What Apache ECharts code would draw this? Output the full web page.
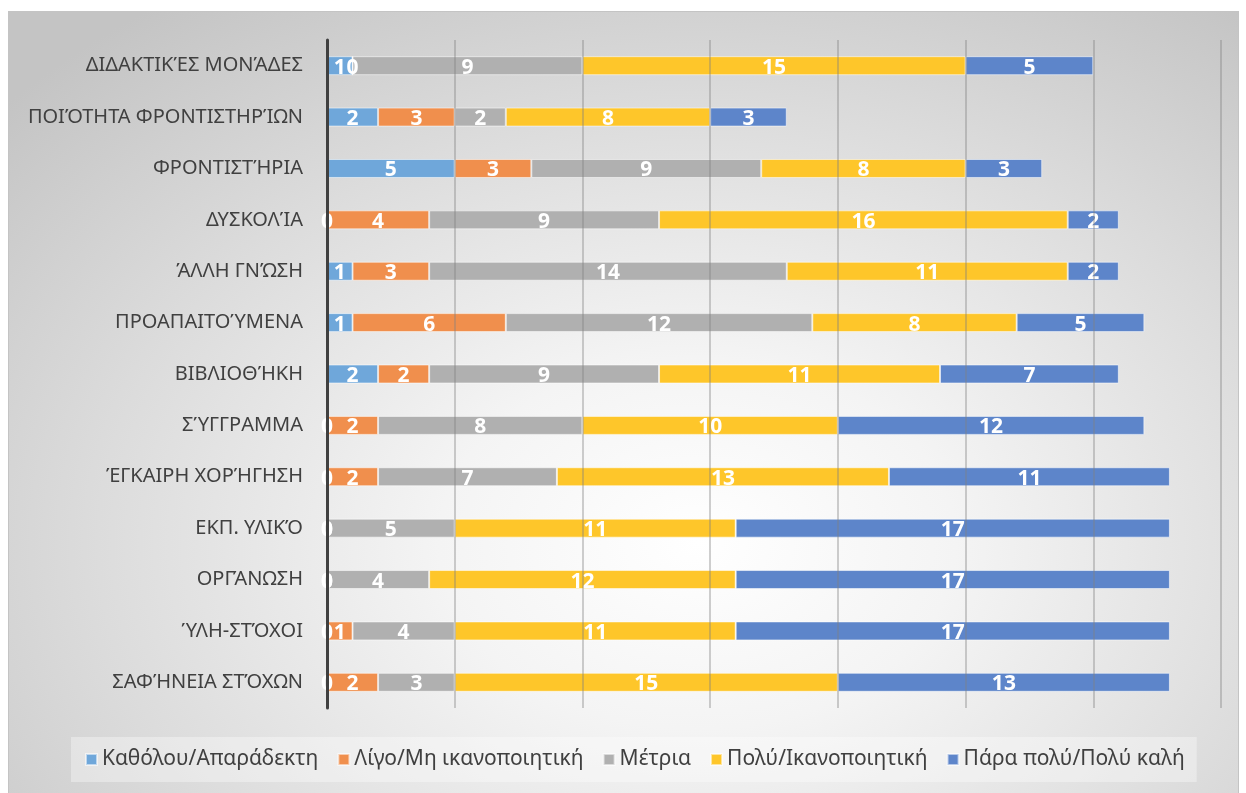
<!DOCTYPE html>
<html>
<head>
<meta charset="utf-8">
<script src="https://cdn.jsdelivr.net/npm/echarts@6/dist/echarts.min.js"></script>
<style>
html,body{margin:0;padding:0;background:#fff;}
#bg{position:absolute;left:8px;top:11px;width:1229px;height:781px;border:1px solid #c4c4c4;
background:radial-gradient(ellipse 75% 85% at 56% 68%, #ffffff 0%, #f4f4f4 28%, #dcdcdc 65%, #c4c4c4 100%);}
#chart{position:absolute;left:0;top:0;width:1246px;height:793px;}
</style>
</head>
<body>
<div id="bg"></div>
<div id="chart"></div>
<script>
const categories = ['ΔΙΔΑΚΤΙΚΈΣ ΜΟΝΆΔΕΣ','ΠΟΙΌΤΗΤΑ ΦΡΟΝΤΙΣΤΗΡΊΩΝ','ΦΡΟΝΤΙΣΤΉΡΙΑ','ΔΥΣΚΟΛΊΑ','ΆΛΛΗ ΓΝΏΣΗ','ΠΡΟΑΠΑΙΤΟΎΜΕΝΑ','ΒΙΒΛΙΟΘΉΚΗ','ΣΎΓΓΡΑΜΜΑ','ΈΓΚΑΙΡΗ ΧΟΡΉΓΗΣΗ','ΕΚΠ. ΥΛΙΚΌ','ΟΡΓΆΝΩΣΗ','ΎΛΗ-ΣΤΌΧΟΙ','ΣΑΦΉΝΕΙΑ ΣΤΌΧΩΝ'];
const seriesNames = ['Καθόλου/Απαράδεκτη','Λίγο/Μη ικανοποιητική','Μέτρια','Πολύ/Ικανοποιητική','Πάρα πολύ/Πολύ καλή'];
const kathólou   = [1,2,5,0,1,1,2,0,0,0,0,0,0];
const ligo       = [0,3,3,4,3,6,2,2,2,0,0,1,2];
const metria     = [9,2,9,9,14,12,9,8,7,5,4,4,3];
const poly       = [15,8,8,16,11,8,11,10,13,11,12,11,15];
const paraPoly   = [5,3,3,2,2,5,7,12,11,17,17,17,13];
const colors = ['#6fa7da','#f08f4d','#b0b0b0','#fec62a','#5d85ca'];
const allData = [kathólou, ligo, metria, poly, paraPoly];

const chart = echarts.init(document.getElementById('chart'));
const font = '"Noto Sans", "DejaVu Sans", sans-serif';
chart.setOption({
  backgroundColor: 'transparent',
  textStyle: {fontFamily: font},
  grid: {left: 327, right: 25, top: 40, bottom: 85, containLabel: false},
  legend: {
    data: seriesNames,
    left: 71, top: 737,
    padding: [12, 12, 12, 14],
    backgroundColor: 'rgba(255,255,255,0.35)',
    itemWidth: 11, itemHeight: 11, itemGap: 19,
    textStyle: {color: '#404040', fontSize: 21, fontFamily: font},
    icon: 'rect'
  },
  xAxis: {
    type: 'value', min: 0, max: 35, interval: 5, z: 10,
    axisLabel: {show: false}, axisLine: {show: false}, axisTick: {show: false},
    splitLine: {show: true, lineStyle: {color: 'rgba(130,130,130,0.5)', width: 1.5}}
  },
  yAxis: {
    type: 'category', data: categories, inverse: true, z: 11,
    axisLine: {show: true, lineStyle: {color: '#404040', width: 3}},
    axisTick: {show: false},
    axisLabel: {color: '#404040', fontSize: 20, margin: 24, fontFamily: font}
  },
  series: allData.map((d, i) => ({
    name: seriesNames[i], type: 'bar', stack: 'total', data: d, barWidth: 19,
    itemStyle: {color: colors[i], borderColor: 'rgba(255,255,255,0.55)', borderWidth: 1},
    label: {show: true, position: 'inside', offset: [0, 2], color: '#ffffff', fontWeight: 'bold', fontSize: 21, fontFamily: font,
      formatter: p => String(p.value)}
  }))
});
</script>
</body>
</html>
